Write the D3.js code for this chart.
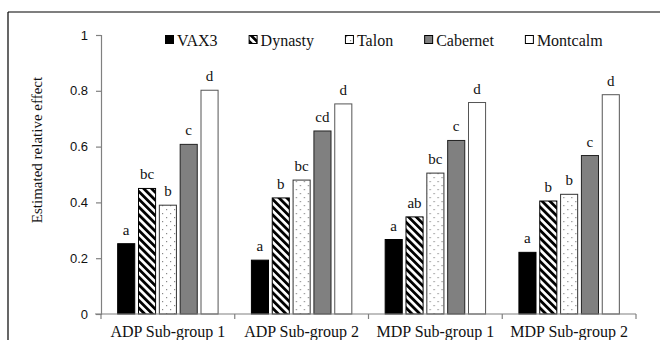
<!DOCTYPE html>
<html>
<head>
<meta charset="utf-8">
<script src="https://cdn.jsdelivr.net/npm/d3@7"></script>
<style>
  html, body { margin: 0; padding: 0; background: #fff; }
  svg { display: block; }
</style>
</head>
<body>
<svg id="chart" width="660" height="340"></svg>
<script>
// Sub-groups along the x axis
const groups = ["ADP Sub-group 1", "ADP Sub-group 2", "MDP Sub-group 1", "MDP Sub-group 2"];
// Cultivars (one bar per cultivar in each sub-group)
const series = ["VAX3", "Dynasty", "Talon", "Cabernet", "Montcalm"];
// Estimated relative effect, per cultivar, in sub-group order
const vax3     = [0.252, 0.193, 0.267, 0.221];
const dynasty  = [0.450, 0.416, 0.348, 0.405];
const talon    = [0.390, 0.480, 0.505, 0.429];
const cabernet = [0.608, 0.656, 0.622, 0.568];
const montcalm = [0.802, 0.753, 0.758, 0.786];
// Significance letters, per cultivar, in sub-group order
const lettersVax3     = ["a", "a", "a", "a"];
const lettersDynasty  = ["bc", "b", "ab", "b"];
const lettersTalon    = ["b", "bc", "bc", "b"];
const lettersCabernet = ["c", "cd", "c", "c"];
const lettersMontcalm = ["d", "d", "d", "d"];
// Y axis ticks
const yTicks = [0, 0.2, 0.4, 0.6, 0.8, 1];

const values = [vax3, dynasty, talon, cabernet, montcalm];
const letters = [lettersVax3, lettersDynasty, lettersTalon, lettersCabernet, lettersMontcalm];

const svg = d3.select("#chart");
const serif = "'Liberation Serif', 'Times New Roman', serif";
const sans = "'Liberation Sans', Arial, sans-serif";

// Fill patterns
const defs = svg.append("defs");
const stripe = defs.append("pattern")
  .attr("id", "stripes").attr("patternUnits", "userSpaceOnUse")
  .attr("width", 5.5).attr("height", 5.5)
  .attr("patternTransform", "rotate(-45)");
stripe.append("rect").attr("width", 5.5).attr("height", 5.5).attr("fill", "#fff");
stripe.append("rect").attr("x", 0).attr("width", 2.8).attr("height", 5.5).attr("fill", "#000");

const dots = defs.append("pattern")
  .attr("id", "dots").attr("patternUnits", "userSpaceOnUse")
  .attr("width", 8).attr("height", 8);
dots.append("rect").attr("width", 8).attr("height", 8).attr("fill", "#fff");
dots.append("rect").attr("x", 1).attr("y", 1).attr("width", 1.2).attr("height", 1.2).attr("fill", "#888");
dots.append("rect").attr("x", 5).attr("y", 5).attr("width", 1.2).attr("height", 1.2).attr("fill", "#888");

const fills = ["#000", "url(#stripes)", "url(#dots)", "#808080", "#fff"];
const strokes = ["#000", "#000", "#333", "#222", "#555"];

// Frame (top and left edges)
svg.append("line").attr("x1", 8).attr("x2", 660).attr("y1", 12).attr("y2", 12)
  .attr("stroke", "#000").attr("stroke-width", 1.2);
svg.append("line").attr("x1", 8).attr("x2", 8).attr("y1", 12).attr("y2", 340)
  .attr("stroke", "#000").attr("stroke-width", 1.2);

const plot = { left: 101, right: 636, top: 35, bottom: 314 };

const x0 = d3.scaleBand().domain(groups).range([plot.left, plot.right]).padding(0);
const x1 = d3.scaleBand().domain(series).range([0, x0.bandwidth()])
  .paddingInner(0.18).paddingOuter(0.8);
const y = d3.scaleLinear().domain([0, 1]).range([plot.bottom, plot.top]);

// Y axis
const yAxis = svg.append("g")
  .attr("transform", `translate(${plot.left},0)`)
  .call(d3.axisLeft(y).tickValues(yTicks).tickSize(5).tickPadding(8)
    .tickFormat(d => d === 0 || d === 1 ? d3.format("d")(d) : d3.format(".1f")(d)));
yAxis.select(".domain").attr("stroke", "#808080").attr("stroke-width", 1.2);
yAxis.selectAll(".tick line").attr("stroke", "#808080").attr("stroke-width", 1.2);
yAxis.selectAll(".tick text").attr("font-family", sans).attr("font-size", 13).attr("fill", "#111");

// Bars
const grp = svg.append("g").selectAll("g").data(groups).join("g")
  .attr("transform", d => `translate(${x0(d)},0)`);
series.forEach((s, si) => {
  grp.append("rect")
    .attr("x", x1(s))
    .attr("width", x1.bandwidth())
    .attr("y", (g, gi) => y(values[si][gi]))
    .attr("height", (g, gi) => y(0) - y(values[si][gi]))
    .attr("fill", fills[si])
    .attr("stroke", strokes[si])
    .attr("stroke-width", 1);
  grp.append("text")
    .attr("x", x1(s) + x1.bandwidth() / 2)
    .attr("y", (g, gi) => y(values[si][gi]) - 9)
    .attr("text-anchor", "middle")
    .attr("font-family", serif).attr("font-size", 15).attr("fill", "#111")
    .text((g, gi) => letters[si][gi]);
});

// X axis
const xAxis = svg.append("g")
  .attr("transform", `translate(0,${plot.bottom})`);
xAxis.append("line").attr("x1", plot.left - 6).attr("x2", plot.right).attr("y1", 0).attr("y2", 0)
  .attr("stroke", "#808080").attr("stroke-width", 1.2);
const bounds = groups.map(g => x0(g)).concat([plot.right]);
xAxis.selectAll("line.tk").data(bounds).join("line").attr("class", "tk")
  .attr("x1", d => d).attr("x2", d => d).attr("y1", 0).attr("y2", 5)
  .attr("stroke", "#808080").attr("stroke-width", 1.2);
xAxis.selectAll("text").data(groups).join("text")
  .attr("x", d => x0(d) + x0.bandwidth() / 2)
  .attr("y", 23)
  .attr("text-anchor", "middle")
  .attr("font-family", serif).attr("font-size", 16).attr("fill", "#111")
  .text(d => d);

// Y axis title
svg.append("text")
  .attr("transform", "translate(42,150) rotate(-90)")
  .attr("text-anchor", "middle")
  .attr("font-family", serif).attr("font-size", 15).attr("fill", "#111")
  .text("Estimated relative effect");

// Legend
const legend = svg.append("g").attr("transform", "translate(165,35)");
let lx = 0;
series.forEach((s, si) => {
  const item = legend.append("g").attr("transform", `translate(${lx},0)`);
  item.append("rect").attr("x", 0.5).attr("y", 0.5).attr("width", 8).attr("height", 8)
    .attr("fill", fills[si]).attr("stroke", "#000").attr("stroke-width", 1);
  const t = item.append("text").attr("x", 12).attr("y", 11)
    .attr("font-family", serif).attr("font-size", 16).attr("fill", "#111").text(s);
  lx += 12 + t.node().getComputedTextLength() + 31;
});
</script>
</body>
</html>
